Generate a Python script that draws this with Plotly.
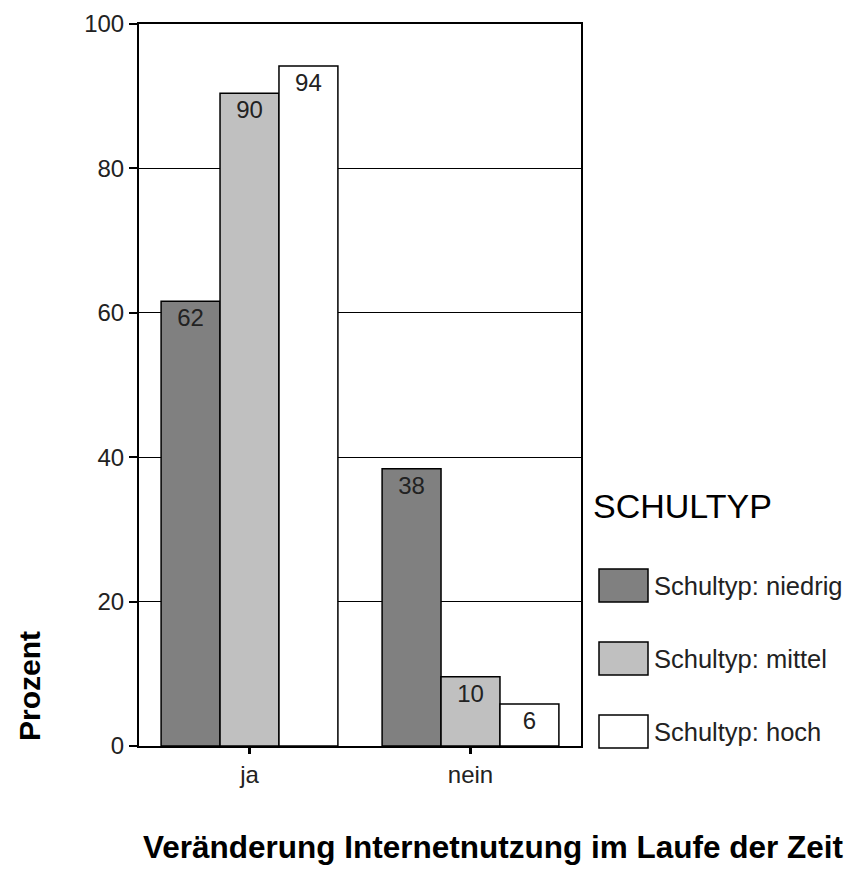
import plotly.graph_objects as go

categories = ["ja", "nein"]
series_names = ["Schultyp: niedrig", "Schultyp: mittel", "Schultyp: hoch"]
niedrig = [61.6, 38.4]
mittel = [90.4, 9.6]
hoch = [94.2, 5.8]
labels_niedrig = ["62", "38"]
labels_mittel = ["90", "10"]
labels_hoch = ["94", "6"]
y_ticks = [0, 20, 40, 60, 80, 100]
legend_title = "SCHULTYP"
x_title = "Veränderung Internetnutzung im Laufe der Zeit"
y_title = "Prozent"

colors = ["#808080", "#c0c0c0", "#ffffff"]
FONT = "Liberation Sans, Arial, sans-serif"

OFF = 8  # default page body margin
W, H = 854 - 2 * OFF, 874 - 2 * OFF  # avoid page overflow / scrollbars
L, R, T, B = 139, 581, 24, 746  # plot area in page pixels


def px(x):
    return (x - L) / (R - L)


def py(y):
    return (B - y) / (B - T)


fig = go.Figure()
for name, vals, labs, col in zip(series_names, [niedrig, mittel, hoch],
                                 [labels_niedrig, labels_mittel, labels_hoch], colors):
    fig.add_trace(go.Bar(
        name=name, x=categories, y=vals, text=labs,
        textposition="inside", insidetextanchor="end", textangle=0,
        textfont=dict(family=FONT, size=24, color="#222222"),
        marker=dict(color=col, line=dict(color="#000000", width=1.5)),
        showlegend=False, hoverinfo="x+y+name",
    ))

shapes = []
annotations = []
# custom legend
annotations.append(dict(text=legend_title, x=px(591), y=py(506), xref="paper", yref="paper",
                        xanchor="left", yanchor="middle", showarrow=False,
                        font=dict(family=FONT, size=34, color="#000000")))
sw_tops = [569, 642, 715]
for name, col, top in zip(series_names, colors, sw_tops):
    shapes.append(dict(type="rect", xref="paper", yref="paper",
                       x0=px(599), x1=px(648), y0=py(top + 33), y1=py(top),
                       fillcolor=col, line=dict(color="#000000", width=1.5)))
    annotations.append(dict(text=name, x=px(652), y=py(top + 17), xref="paper", yref="paper",
                            xanchor="left", yanchor="middle", showarrow=False,
                            font=dict(family=FONT, size=25.5, color="#222222")))

annotations.append(dict(text="<b>" + x_title + "</b>", x=px(493), y=py(847), xref="paper", yref="paper",
                        xanchor="center", yanchor="middle", showarrow=False,
                        font=dict(family=FONT, size=31.5, color="#000000")))
annotations.append(dict(text="<b>" + y_title + "</b>", x=px(29), y=py(686), xref="paper", yref="paper",
                        xanchor="center", yanchor="middle", showarrow=False, textangle=-90,
                        font=dict(family=FONT, size=30, color="#000000")))

fig.update_layout(
    width=W, height=H,
    margin=dict(l=L - OFF, r=(854 - OFF) - R, t=T - OFF, b=(874 - OFF) - B, autoexpand=False),
    paper_bgcolor="white", plot_bgcolor="white",
    barmode="group", bargap=0.2, bargroupgap=0,
    shapes=shapes, annotations=annotations,
    font=dict(family=FONT, color="#222222"),
)
fig.update_xaxes(
    type="category", range=[-0.5, 1.5], showgrid=False,
    showline=True, linecolor="#000000", linewidth=2, mirror=True,
    ticks="outside", ticklen=6, tickwidth=3, tickcolor="#000000",
    tickfont=dict(family=FONT, size=24, color="#222222"),
)
fig.update_yaxes(
    range=[0, 100], tickvals=y_ticks, showgrid=True, gridcolor="#000000", gridwidth=1,
    showline=True, linecolor="#000000", linewidth=2, mirror=True, zeroline=False,
    ticks="outside", ticklen=8, tickwidth=2, tickcolor="#000000",
    tickfont=dict(family=FONT, size=24, color="#222222"),
)

fig.write_html("out.html")
